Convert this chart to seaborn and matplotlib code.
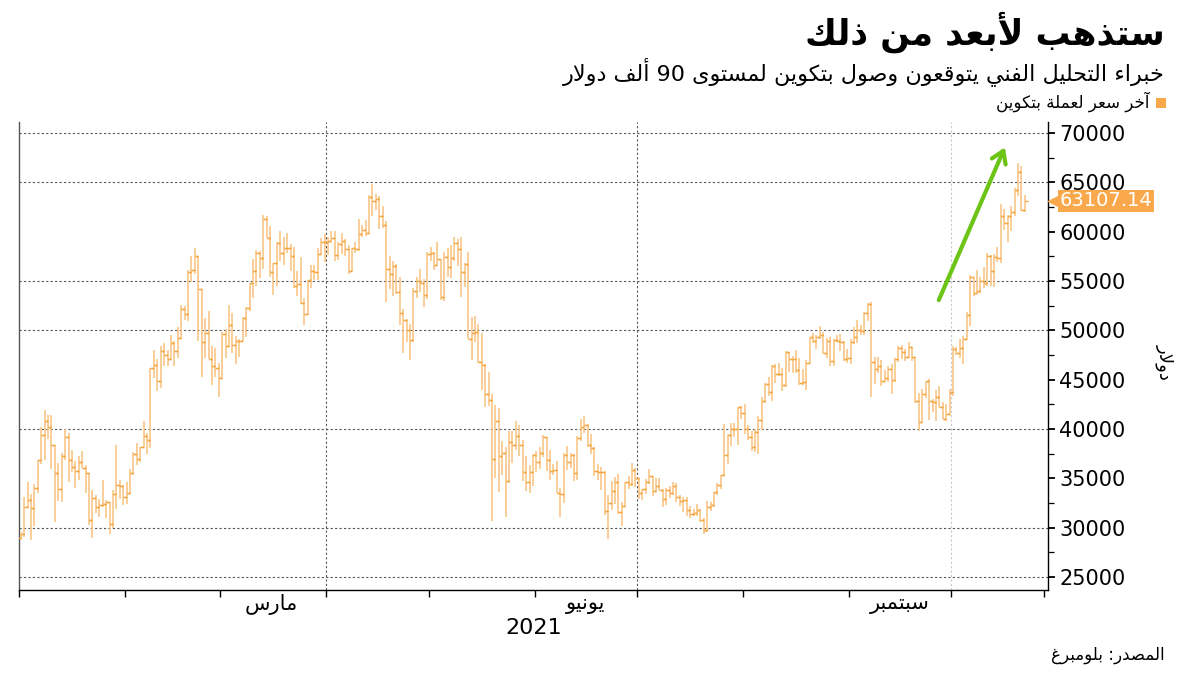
import re
import numpy as np
import pandas as pd
import matplotlib
matplotlib.use("Agg")
import matplotlib.pyplot as plt
import matplotlib.transforms as mtransforms
import seaborn as sns

# ---------------- data (daily OHLC, Bitcoin, 2021-01-01 .. 2021-10-22) ----------------
start_date = "2021-01-01"
first_open = 28994

close = [
    # Jan
    29374, 32127, 32782, 31971, 33992, 36824, 39371, 40797, 40254, 38356, 35566, 33922, 37316, 39187, 36825, 36178,
    35791, 36630, 36069, 35547, 30825, 33005, 32067, 32289, 32366, 32569, 30432, 33466, 34316, 34269, 33114,
    # Feb
    33537, 35510, 37472, 36926, 38144, 39266, 38903, 46196, 46481, 44918, 47909, 47504, 47105, 48717, 47945, 49199,
    52149, 51679, 55888, 56099, 57539, 54207, 48824, 49705, 47093, 46339, 46188, 45137,
    # Mar
    49631, 48378, 50538, 48561, 48927, 48912, 51206, 52246, 54824, 56008, 57805, 57332, 61243, 59302, 55907, 56804,
    58870, 57858, 58346, 58313, 57523, 54529, 54738, 52774, 51704, 55137, 55974, 55947, 57750, 58917, 58918,
    # Apr
    59095, 59384, 57603, 58758, 59057, 58192, 56048, 58323, 58245, 59793, 60204, 59893, 63503, 63109, 63314, 61572,
    60683, 56216, 55724, 56473, 53906, 51762, 51093, 50050, 49004, 54021, 55033, 54824, 53555, 57750,
    # May
    57828, 56631, 57200, 53333, 57424, 56396, 57356, 58803, 58232, 55859, 56704, 49150, 49716, 49880, 46760, 46456,
    43537, 42909, 37002, 40782, 37305, 37536, 34770, 38705, 38402, 39294, 38436, 35697, 34616, 35678, 37332,
    # Jun
    36684, 37575, 39188, 36825, 35791, 35849, 33560, 33472, 37345, 36702, 37334, 35552, 39097, 40219, 40406, 38347,
    38053, 35787, 35615, 35698, 31676, 32505, 33723, 34663, 31594, 32243, 34649, 34434, 35867, 35041,
    # Jul
    33572, 33897, 34668, 35287, 33746, 34235, 33855, 32877, 33798, 33520, 34240, 33155, 32702, 32822, 31781, 31421,
    31533, 31796, 30817, 29807, 32110, 32313, 33581, 34292, 35350, 37337, 39406, 39995, 40008, 42235, 41626,
    # Aug
    39974, 39201, 38152, 39747, 40869, 42816, 44555, 43798, 46365, 45585, 45593, 44428, 47793, 47096, 47047, 46004,
    44695, 44801, 46717, 49339, 48905, 49321, 49546, 47706, 48960, 46942, 49058, 48902, 48829, 47054, 47166,
    # Sep
    48847, 49327, 50025, 49944, 51753, 52633, 46811, 46091, 46391, 44883, 45201, 46063, 44963, 47092, 48176, 47783,
    47267, 48278, 47260, 42843, 40693, 43574, 44895, 42839, 42716, 43208, 42235, 41034, 41564, 43791,
    # Oct
    48116, 47711, 48199, 49112, 51514, 55361, 53805, 53967, 54968, 54771, 57484, 56041, 57401, 57321, 61593, 60892,
    61553, 62026, 64262, 65992, 62210, 63107.14,
]

high = [
    # Jan
    29601, 33155, 34608, 33441, 34437, 36879, 40180, 41946, 41436, 41420, 38346, 36568, 37599, 39966, 39577, 37864,
    36722, 37299, 37755, 36378, 35552, 33811, 33360, 32944, 34802, 32794, 32557, 33783, 38406, 34834, 34288,
    # Feb
    34638, 35984, 37662, 38592, 38225, 40846, 39621, 46203, 48003, 47145, 48463, 48745, 48047, 49487, 48875, 50341,
    52533, 52474, 56113, 57505, 58330, 57533, 54204, 51290, 51948, 48370, 48253, 46716,
    # Mar
    49784, 50127, 52535, 51735, 49434, 49147, 51384, 52390, 54824, 57258, 58092, 58013, 61683, 61597, 60540, 56833,
    58970, 60031, 59498, 59883, 58767, 58471, 55985, 57388, 53234, 55137, 56568, 56610, 58342, 59369, 59800,
    # Apr
    59469, 60110, 60046, 58913, 59891, 59232, 58656, 58338, 58937, 61276, 60659, 61199, 63742, 64863, 63821, 63595,
    62572, 61057, 57526, 57062, 56757, 55410, 52131, 51167, 50591, 54288, 55416, 56227, 55196, 57900,
    # May
    58448, 57926, 58973, 57164, 57971, 58363, 58606, 59464, 59210, 59500, 56862, 57939, 51330, 51438, 50639, 49720,
    46623, 45812, 43546, 42462, 42172, 38776, 38228, 39835, 39791, 40782, 40379, 38856, 37234, 36400, 37468,
    # Jun
    37800, 38225, 39367, 39242, 37896, 36436, 36790, 34017, 37537, 38334, 37608, 37439, 39322, 40978, 41295, 40516,
    39513, 38187, 36436, 36112, 35721, 33298, 34753, 35165, 35487, 32637, 34656, 35219, 36542, 36074,
    # Jul
    35035, 33939, 34909, 35937, 35284, 35038, 35000, 33910, 34042, 34262, 34592, 34583, 33307, 33113, 33159, 32249,
    31936, 32385, 31885, 31032, 32752, 32576, 33581, 34491, 35364, 40499, 39542, 40640, 40579, 42235, 42300,
    # Aug
    42541, 40423, 39773, 39968, 41341, 43271, 44690, 45282, 46456, 46637, 46735, 46218, 47886, 47832, 47372, 48053,
    47153, 46035, 47030, 49342, 49757, 49490, 50482, 49817, 49248, 49288, 49122, 49506, 49654, 48919, 48090,
    # Sep
    49086, 50343, 51033, 50545, 51868, 52781, 52853, 47334, 47261, 47031, 45969, 46364, 46598, 47219, 48450, 48486,
    48094, 48790, 48328, 47328, 43639, 44035, 44910, 45080, 42996, 43919, 44313, 42730, 42542, 44092,
    # Oct
    48436, 48343, 49130, 49402, 51887, 55568, 55338, 56113, 55397, 56401, 57793, 57627, 57688, 58478, 62757, 62274,
    61690, 62614, 64434, 66930, 66600, 63715,
]

low = [
    # Jan
    28803, 29091, 32052, 28722, 30221, 33514, 36491, 36838, 38980, 35984, 30549, 32697, 32584, 36868, 34659, 35633,
    34070, 34883, 36069, 33570, 30250, 28953, 31493, 31106, 32087, 30942, 29367, 30023, 31944, 32940, 32270,
    # Feb
    32384, 33418, 35362, 36317, 36658, 38138, 37446, 38076, 45166, 43881, 44187, 46425, 46392, 47114, 46347, 47201,
    49072, 51015, 50937, 54894, 55672, 48967, 45290, 47213, 47093, 44454, 45269, 43241,
    # Mar
    45115, 47228, 48274, 47656, 46542, 47257, 48918, 49274, 51981, 53290, 54484, 55286, 56217, 59302, 55393, 53555,
    54528, 57023, 56643, 57820, 56005, 54288, 53470, 52658, 50583, 51579, 54242, 55072, 55140, 57697, 56873,
    # Apr
    57599, 58906, 57022, 57168, 57694, 57545, 55674, 55980, 57807, 58037, 59452, 59531, 59870, 61554, 62208, 60222,
    60361, 52829, 54221, 53448, 53695, 50583, 47714, 48805, 47045, 48852, 53319, 53887, 52330, 53129,
    # May
    57052, 56115, 56590, 53057, 52969, 55382, 55321, 56975, 56482, 53400, 54370, 49150, 46980, 48868, 46664, 43963,
    42207, 42367, 30681, 35050, 33616, 35383, 31114, 34551, 36581, 37868, 37247, 34779, 33693, 33520, 34241,
    # Jun
    35667, 35981, 37194, 35717, 34801, 35304, 33480, 31115, 32475, 35847, 36044, 34707, 34864, 38757, 39609, 38176,
    37439, 35255, 34833, 33865, 31295, 28893, 31772, 32396, 31350, 30185, 32071, 33902, 34252, 34086,
    # Jul
    32883, 32770, 33402, 34396, 33213, 33600, 33832, 32133, 32318, 33004, 33326, 32659, 32233, 31550, 31175, 31021,
    31178, 31224, 30563, 29360, 29526, 31745, 32057, 33361, 33881, 35287, 36441, 38313, 39170, 38398, 41064,
    # Aug
    39540, 38870, 37782, 37642, 37459, 39932, 42618, 43331, 42848, 44705, 45351, 43861, 44217, 45736, 45643, 45660,
    44460, 44454, 43998, 46650, 48698, 48118, 49074, 47625, 47163, 46360, 46394, 48822, 47925, 46905, 46695,
    # Sep
    46603, 48652, 48762, 49548, 49538, 50985, 43285, 44561, 45669, 44344, 44818, 44790, 43591, 44752, 46773, 47079,
    46930, 47154, 46876, 42598, 39787, 40679, 43191, 40936, 41759, 40848, 42190, 41000, 40829, 41444,
    # Oct
    43320, 47465, 47157, 46603, 49073, 50488, 53525, 53720, 53735, 54264, 54519, 54477, 54370, 56957, 56868, 60206,
    58963, 60012, 61622, 63610, 62117, 62000,
]

y_ticks = [25000, 30000, 35000, 40000, 45000, 50000, 55000, 60000, 65000, 70000]
y_grid = [25000, 30000, 40000, 50000, 55000, 65000, 70000]
month_labels = {"2021-03-16": "مارس", "2021-06-16": "يونيو", "2021-09-16": "سبتمبر"}
year_label = "2021"
title = "ستذهب لأبعد من ذلك"
subtitle = "خبراء التحليل الفني يتوقعون وصول بتكوين لمستوى 90 ألف دولار"
legend_label = "آخر سعر لعملة بتكوين"
source_label = "المصدر: بلومبرغ"
unit_label = "دولار"
arrow_start = ("2021-09-27", 52800)
arrow_end = ("2021-10-17", 68800)

# ---------------- Arabic shaping (presentation forms + RTL order) ----------------
FORMS = {
    'ء': ('\uFE80', None, None, None),
    'آ': ('\uFE81', '\uFE82', None, None),
    'أ': ('\uFE83', '\uFE84', None, None),
    'ا': ('\uFE8D', '\uFE8E', None, None),
    'ب': ('\uFE8F', '\uFE90', '\uFE91', '\uFE92'),
    'ة': ('\uFE93', '\uFE94', None, None),
    'ت': ('\uFE95', '\uFE96', '\uFE97', '\uFE98'),
    'ح': ('\uFEA1', '\uFEA2', '\uFEA3', '\uFEA4'),
    'خ': ('\uFEA5', '\uFEA6', '\uFEA7', '\uFEA8'),
    'د': ('\uFEA9', '\uFEAA', None, None),
    'ذ': ('\uFEAB', '\uFEAC', None, None),
    'ر': ('\uFEAD', '\uFEAE', None, None),
    'س': ('\uFEB1', '\uFEB2', '\uFEB3', '\uFEB4'),
    'ص': ('\uFEB9', '\uFEBA', '\uFEBB', '\uFEBC'),
    'ع': ('\uFEC9', '\uFECA', '\uFECB', '\uFECC'),
    'غ': ('\uFECD', '\uFECE', '\uFECF', '\uFED0'),
    'ف': ('\uFED1', '\uFED2', '\uFED3', '\uFED4'),
    'ق': ('\uFED5', '\uFED6', '\uFED7', '\uFED8'),
    'ك': ('\uFED9', '\uFEDA', '\uFEDB', '\uFEDC'),
    'ل': ('\uFEDD', '\uFEDE', '\uFEDF', '\uFEE0'),
    'م': ('\uFEE1', '\uFEE2', '\uFEE3', '\uFEE4'),
    'ن': ('\uFEE5', '\uFEE6', '\uFEE7', '\uFEE8'),
    'ه': ('\uFEE9', '\uFEEA', '\uFEEB', '\uFEEC'),
    'و': ('\uFEED', '\uFEEE', None, None),
    'ى': ('\uFEEF', '\uFEF0', None, None),
    'ي': ('\uFEF1', '\uFEF2', '\uFEF3', '\uFEF4'),
}
LAM_ALEF = {'ا': ('\uFEFB', '\uFEFC'), 'أ': ('\uFEF7', '\uFEF8'), 'آ': ('\uFEF5', '\uFEF6')}


def _dual(c):
    return c in FORMS and FORMS[c][2] is not None


def _joins(c):
    return c in FORMS and c != 'ء'


def ar(s):
    out = []
    i, n = 0, len(s)
    while i < n:
        c = s[i]
        if c not in FORMS:
            out.append(c)
            i += 1
            continue
        prev = s[i - 1] if i > 0 else ''
        link_prev = _dual(prev) and c != 'ء'
        if c == 'ل' and i + 1 < n and s[i + 1] in LAM_ALEF:
            iso, fin = LAM_ALEF[s[i + 1]]
            out.append(fin if link_prev else iso)
            i += 2
            continue
        nxt = s[i + 1] if i + 1 < n else ''
        link_next = _dual(c) and _joins(nxt)
        iso, fin, ini, med = FORMS[c]
        if c == 'ء':
            f = iso
        elif link_prev and link_next:
            f = med
        elif link_prev:
            f = fin
        elif link_next:
            f = ini
        else:
            f = iso
        out.append(f)
        i += 1
    vis = ''.join(reversed(out))
    vis = re.sub(r'[0-9.]+', lambda m: m.group(0)[::-1], vis)
    return vis


# ---------------- styling ----------------
sns.set_theme(style="white")
plt.rcParams['font.family'] = ['DejaVu Sans']
plt.rcParams['text.color'] = 'black'
plt.rcParams['xtick.color'] = 'black'
plt.rcParams['ytick.color'] = 'black'

BAR_LINE = '#f8c27e'
BAR_TICK = '#f4a641'
LABEL_ORANGE = '#f9a94b'

dates = pd.date_range(start_date, periods=len(close), freq="D") + pd.Timedelta(hours=12)
opens = [first_open] + close[:-1]
df = pd.DataFrame({"date": dates, "open": opens, "high": high, "low": low, "close": close})

fig = plt.figure(figsize=(12, 6.75), dpi=100)
ax = fig.add_axes([19 / 1200, 85 / 675, 1029 / 1200, 468 / 675])

# high-low ranges
ax.vlines(df["date"], df["low"], df["high"], color=BAR_LINE, lw=1.1, zorder=3)
# open (left tick) and close (right tick)
sns.scatterplot(data=df, x="date", y="open", marker=[(-1, 0), (0, 0)], s=22,
                color=BAR_TICK, edgecolor=BAR_TICK, linewidth=1.0, ax=ax, zorder=4, legend=False)
sns.scatterplot(data=df, x="date", y="close", marker=[(0, 0), (1, 0)], s=22,
                color=BAR_TICK, edgecolor=BAR_TICK, linewidth=1.0, ax=ax, zorder=4, legend=False)

x0 = pd.Timestamp(start_date)
ax.set_xlim(x0, x0 + pd.Timedelta(days=301.3))
ax.set_ylim(23700, 71100)

# grid
for g in y_grid:
    ax.axhline(g, color='#555555', lw=0.8, ls=(0, (2, 2)), zorder=1)
for d, c in [("2021-04-01", '#555555'), ("2021-07-01", '#555555'), ("2021-10-01", '#c8c8c8')]:
    ax.axvline(pd.Timestamp(d), color=c, lw=0.8, ls=(0, (2, 2)), zorder=1)

# spines
ax.spines['top'].set_visible(False)
ax.spines['left'].set_color('#555555')
ax.spines['right'].set_color('#000000')
ax.spines['bottom'].set_color('#000000')
for sp in ['left', 'right', 'bottom']:
    ax.spines[sp].set_linewidth(1.0)

# y axis on right
ax.yaxis.tick_right()
ax.set_yticks(y_ticks)
ax.set_yticklabels([str(v) for v in y_ticks], fontsize=15)
ax.set_yticks([v + 2500 for v in y_ticks[:-1]], minor=True)
ax.tick_params(axis='y', which='major', right=True, left=False, length=5, width=1.3, pad=3, colors='black')
ax.tick_params(axis='y', which='minor', right=True, left=False, length=4, width=0.9, color='black')
ax.set_ylabel("")

# x axis
month_starts = list(pd.date_range("2021-01-01", "2021-10-01", freq="MS")) + [pd.Timestamp("2021-10-28")]
ax.set_xticks(month_starts)
ax.set_xticklabels([])
ax.set_xticks([pd.Timestamp(k) for k in month_labels], minor=True)
ax.set_xticklabels([ar(v) for v in month_labels.values()], minor=True, fontsize=15)
ax.tick_params(axis='x', which='major', bottom=True, length=5, width=1.0, color='black')
ax.tick_params(axis='x', which='minor', bottom=True, length=0, pad=3)
ax.set_xlabel("")
ax.text(0.5, -0.06, year_label, transform=ax.transAxes, ha='center', va='top', fontsize=16)

# last price label
trans = mtransforms.blended_transform_factory(ax.transAxes, ax.transData)
last = close[-1]
ax.plot([1.006], [last], marker='<', ms=8, color=LABEL_ORANGE, transform=trans, clip_on=False, zorder=5)
ax.text(1.011, last, f"{last:.2f}", transform=trans, ha='left', va='center', fontsize=14,
        color='white', bbox=dict(boxstyle='square,pad=0.08', fc=LABEL_ORANGE, ec='none'), zorder=6)

# unit label
fig.text(1165 / 1200, 1 - 362 / 675, ar(unit_label), rotation=270, ha='center', va='center', fontsize=13)

# arrow
ax.annotate("", xy=(pd.Timestamp(arrow_end[0]), arrow_end[1]),
            xytext=(pd.Timestamp(arrow_start[0]), arrow_start[1]),
            arrowprops=dict(arrowstyle='->,head_length=0.7,head_width=0.45', lw=3, color='#6cc417'),
            zorder=7)

# titles
fig.text(1165 / 1200, 1 - 32 / 675, ar(title), ha='right', va='center', fontsize=25, fontweight='bold')
fig.text(1165 / 1200, 1 - 72 / 675, ar(subtitle), ha='right', va='center', fontsize=16)
fig.patches.append(plt.Rectangle((1156 / 1200, 1 - 108 / 675), 10 / 1200, 10 / 675,
                                 transform=fig.transFigure, fc=LABEL_ORANGE, ec='none'))
fig.text(1150 / 1200, 1 - 102 / 675, ar(legend_label), ha='right', va='center', fontsize=12)
fig.text(1165 / 1200, 1 - 655 / 675, ar(source_label), ha='right', va='center', fontsize=12)

fig.savefig("out.png", dpi=100, facecolor='white')
